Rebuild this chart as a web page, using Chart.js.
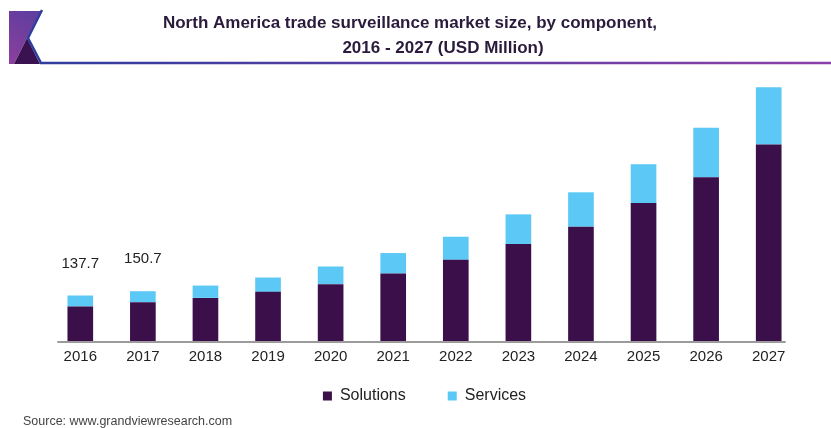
<!DOCTYPE html>
<html>
<head>
<meta charset="utf-8">
<title>North America trade surveillance market size, by component</title>
<script src="https://cdn.jsdelivr.net/npm/chart.js@4.4.1/dist/chart.umd.min.js"></script>
<style>
    body { margin: 0; background: #fff; }
    canvas { display: block; }
</style>
</head>
<body>
<canvas id="container" width="831" height="428"></canvas>
<script>
"use strict";

const years = ["2016", "2017", "2018", "2019", "2020", "2021", "2022", "2023", "2024", "2025", "2026", "2027"];
const solutions = [104.5, 117.5, 130.5, 148.7, 172.1, 204.3, 245.8, 293.5, 346.0, 417.9, 495.6, 594.9];
const services = [33.2, 33.2, 37.3, 43.4, 53.4, 61.9, 69.8, 89.8, 104.1, 117.1, 149.9, 173.0];
// totals written above these bars only
const labelledYears = ["2016", "2017"];

const titleLines = ["North America trade surveillance market size, by component,", "2016 - 2027 (USD Million)"];
const sourceText = "Source: www.grandviewresearch.com";

const FONT = "'Liberation Sans', Arial, Helvetica, sans-serif";
Chart.defaults.font.family = FONT;

// logo, header rule, baseline, title, totals and source line
var decorations = {
    id: "decorations",
    afterLayout(chart) {
        // x axis is fitted 5px tall, give its labels room to draw below
        var x = chart.scales.x;
        x.bottom = x.top + 30;
    },
    beforeDatasetsDraw(chart) {
        var c = chart.ctx, x = chart.scales.x;
        c.save();
        c.strokeStyle = "#9b9b9b";
        c.lineWidth = 2;
        c.beginPath();
        c.moveTo(x.getPixelForValue(0) - 23, x.top + 1);
        c.lineTo(x.getPixelForValue(years.length - 1) + 17, x.top + 1);
        c.stroke();
        c.restore();
    },
    afterDraw(chart) {
        var c = chart.ctx;
        c.save();

        var grad = c.createLinearGradient(41, 11, 9, 64);
        grad.addColorStop(0, "#5a3e9f");
        grad.addColorStop(1, "#8e3f9d");
        c.fillStyle = grad;
        c.beginPath();
        c.moveTo(9, 11); c.lineTo(41, 11); c.lineTo(27, 38); c.lineTo(14, 64); c.lineTo(9, 64);
        c.closePath();
        c.fill();
        c.fillStyle = "#3b1250";
        c.beginPath();
        c.moveTo(14, 64); c.lineTo(27, 38); c.lineTo(40, 64);
        c.closePath();
        c.fill();

        var rule = c.createLinearGradient(0, 0, chart.width, 0);
        rule.addColorStop(0, "#2b3d9d");
        rule.addColorStop(1, "#8c3fa8");
        c.strokeStyle = rule;
        c.lineWidth = 2.5;
        c.beginPath();
        c.moveTo(42, 10); c.lineTo(28, 38); c.lineTo(41, 63); c.lineTo(chart.width, 63);
        c.stroke();

        c.fillStyle = "#2a1a3c";
        c.font = "bold 17px " + FONT;
        c.textAlign = "center";
        c.textBaseline = "alphabetic";
        c.fillText(titleLines[0], 410, 28);
        c.fillText(titleLines[1], 443, 53);

        var x = chart.scales.x, y = chart.scales.y;
        c.fillStyle = "#222";
        c.font = "15px " + FONT;
        c.textBaseline = "middle";
        labelledYears.forEach(yr => {
            var i = years.indexOf(yr);
            var total = solutions[i] + services[i];
            c.fillText(total.toFixed(1), x.getPixelForValue(i), y.getPixelForValue(total) - 32);
        });

        c.fillStyle = "#444";
        c.font = "12.5px " + FONT;
        c.textAlign = "left";
        c.textBaseline = "alphabetic";
        c.fillText(sourceText, 23, 425);
        c.restore();
    }
};

var ctx = document.getElementById("container").getContext("2d");
var dataChart = new Chart(ctx, {
    type: "bar",
    data: {
        labels: years,
        datasets: [{
            label: "Solutions",
            data: solutions,
            backgroundColor: "#3a0f4a",
            categoryPercentage: 1,
            barPercentage: 0.41
        }, {
            label: "Services",
            data: services,
            backgroundColor: "#5bc8f5",
            categoryPercentage: 1,
            barPercentage: 0.41
        }]
    },
    options: {
        responsive: false,
        animation: false,
        layout: {
            padding: { top: 80, left: 49, right: 31, bottom: 14 }
        },
        scales: {
            x: {
                stacked: true,
                grid: { display: false, drawTicks: false },
                border: { display: false },
                ticks: { color: "#222", font: { size: 15 }, padding: 7 },
                // labels hang into the legend's top padding
                afterFit(scale) { scale.height = 5; }
            },
            y: {
                stacked: true,
                display: false,
                min: 0,
                max: 790
            }
        },
        plugins: {
            legend: {
                position: "bottom",
                labels: {
                    boxWidth: 9,
                    boxHeight: 9,
                    padding: 42,
                    color: "#222",
                    font: { size: 16 }
                }
            },
            tooltip: { enabled: false }
        }
    },
    plugins: [decorations]
});
</script>
</body>
</html>
